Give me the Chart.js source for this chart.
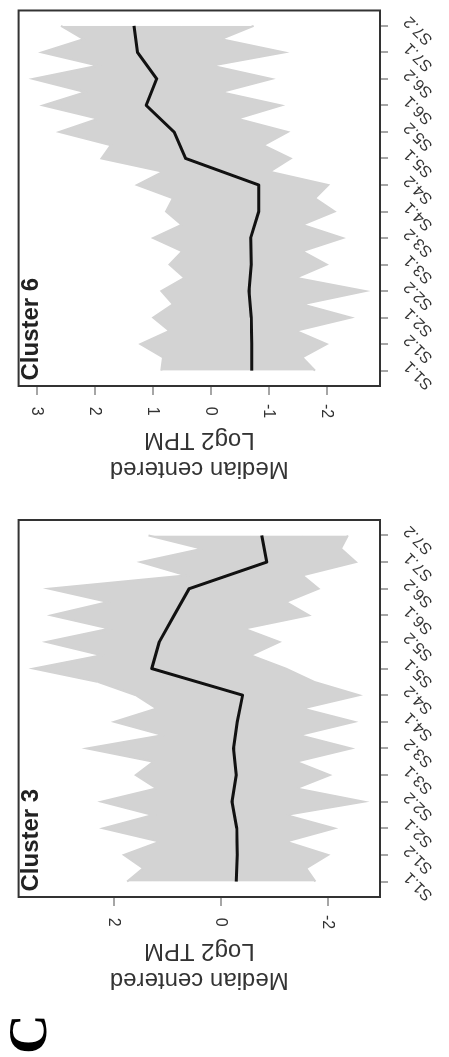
<!DOCTYPE html>
<html>
<head>
<meta charset="utf-8">
<script src="https://cdn.jsdelivr.net/npm/chart.js@4.4.1/dist/chart.umd.min.js"></script>
<style>
  html, body { margin: 0; padding: 0; background: #fff; overflow: hidden; }
  /* the figure is laid out landscape, then turned a quarter turn counter-clockwise */
  #figure { position: absolute; left: 0; top: 0; width: 1057px; height: 449px;
            transform-origin: 0 0; transform: translateY(1057px) rotate(-90deg); background: #fff; }
  #figure canvas { position: absolute; top: 0; }
  #c1 { left: 39px; }
  #c2 { left: 550px; }
  #panel { position: absolute; left: 3px; top: -4px; line-height: 1; color: #000;
           font: bold 55px 'Liberation Serif', 'Times New Roman', serif; }
</style>
</head>
<body>
<div id="figure">
  <div id="panel">C</div>
  <canvas id="c1" width="511" height="449"></canvas>
  <canvas id="c2" width="507" height="449"></canvas>
</div>
<script>
const samples = ['S1.1', 'S1.2', 'S2.1', 'S2.2', 'S3.1', 'S3.2', 'S4.1', 'S4.2',
                 'S5.1', 'S5.2', 'S6.1', 'S6.2', 'S7.1', 'S7.2'];

// Cluster 3: median profile, top / bottom edge of the grey gene band
// (value at each sample, and the dip of the edge between two samples)
const c3Median   = [-0.29, -0.31, -0.30, -0.21, -0.29, -0.24, -0.31, -0.41, 1.29, 1.15, 0.87, 0.59, -0.86, -0.77];
const c3Upper    = [1.75, 1.81, 2.20, 2.23, 1.59, 2.50, 1.99, 1.59, 3.50, 3.26, 3.17, 3.21, 1.50, 1.35];
const c3UpperGap = [1.45, 1.14, 1.27, 1.20, 1.26, 1.08, 1.20, 2.30, 2.23, 2.08, 2.11, 0.65, 0.35];
const c3Lower    = [-1.77, -2.01, -2.13, -2.68, -2.04, -2.44, -2.50, -2.59, -1.22, -1.10, -1.65, -1.83, -2.53, -2.38];
const c3LowerGap = [-1.60, -1.22, -1.22, -1.41, -1.41, -1.47, -1.53, -1.75, -0.56, -0.44, -1.22, -1.53, -2.25];
const c3Ticks    = [-2, 0, 2];

// Cluster 6
const c6Median   = [-0.71, -0.71, -0.70, -0.66, -0.70, -0.69, -0.83, -0.83, 0.43, 0.63, 1.11, 0.93, 1.26, 1.32];
const c6Upper    = [0.85, 1.21, 0.99, 0.85, 0.71, 0.99, 0.77, 1.27, 1.88, 2.61, 2.89, 3.06, 2.91, 2.58];
const c6UpperGap = [0.82, 0.71, 0.65, 0.45, 0.49, 0.50, 0.65, 0.82, 1.72, 1.94, 2.16, 1.94, 2.19];
const c6Lower    = [-1.80, -2.00, -2.42, -2.67, -2.00, -2.28, -2.14, -2.03, -1.38, -1.33, -1.22, -1.05, -1.27, -0.74];
const c6LowerGap = [-1.58, -1.47, -1.58, -1.47, -1.58, -1.58, -1.80, -1.02, -0.91, -0.46, -0.18, -0.02, -0.18];
const c6Ticks    = [-2, -1, 0, 1, 2, 3];

const yTitle = ['Median centered', 'Log2 TPM'];
const grey = '#d3d3d3';
const family = "'Liberation Sans', Arial, sans-serif";

function envelope(peaks, gaps) {
    const pts = [];
    peaks.forEach(function(v, i) {
        pts.push({ x: i, y: v });
        if (i < gaps.length) pts.push({ x: i + 0.5, y: gaps[i] });
    });
    return pts;
}

// box round the plot area + cluster name in its top left corner
const frame = {
    id: 'frame',
    afterDraw(chart, args, opts) {
        const { ctx, chartArea: a } = chart;
        ctx.save();
        ctx.strokeStyle = '#333';
        ctx.lineWidth = 2;
        ctx.strokeRect(a.left, a.top, a.right - a.left, a.bottom - a.top);
        ctx.font = 'bold 24px ' + family;
        ctx.fillStyle = '#222';
        ctx.textBaseline = 'top';
        ctx.fillText(opts.label, a.left + 5.5, a.top + 1);
        ctx.restore();
    }
};

function makeChart(id, label, median, upper, upperGap, lower, lowerGap, yMin, yMax, yTicks, padRight) {
    return new Chart(document.getElementById(id), {
        type: 'line',
        data: {
            datasets: [
                {
                    data: samples.map(function(s, i) { return { x: i, y: median[i] }; }),
                    borderColor: '#111', borderWidth: 3, pointRadius: 0,
                    borderJoinStyle: 'round', order: 0
                },
                {
                    data: envelope(upper, upperGap),
                    borderColor: grey, backgroundColor: grey, borderWidth: 2,
                    pointRadius: 0, fill: '+1', order: 1
                },
                {
                    data: envelope(lower, lowerGap),
                    borderColor: grey, borderWidth: 2, pointRadius: 0, fill: false, order: 2
                }
            ]
        },
        options: {
            responsive: false,
            animation: false,
            events: [],
            layout: { padding: { left: 0, top: 8, right: padRight, bottom: 0 }, autoPadding: false },
            plugins: {
                legend: { display: false },
                tooltip: { enabled: false },
                frame: { label: label }
            },
            scales: {
                x: {
                    type: 'linear',
                    min: -0.58,
                    max: 13.58,
                    afterBuildTicks: function(s) { s.ticks = samples.map(function(_, i) { return { value: i }; }); },
                    afterFit: function(s) { s.height = 69; },
                    border: { display: false },
                    grid: { drawOnChartArea: false, tickLength: 8, color: '#a6a6a6', lineWidth: 2 },
                    ticks: {
                        autoSkip: false, minRotation: 45, maxRotation: 45, padding: 12, labelOffset: 7,
                        color: '#333', font: { family: family, size: 16 },
                        callback: function(v) { return samples[v]; }
                    }
                },
                y: {
                    min: yMin,
                    max: yMax,
                    afterBuildTicks: function(s) { s.ticks = yTicks.map(function(v) { return { value: v }; }); },
                    afterFit: function(s) { s.width = 121; },
                    border: { display: false },
                    grid: { drawOnChartArea: false, tickLength: 9, color: '#a6a6a6', lineWidth: 2 },
                    ticks: {
                        minRotation: 180, maxRotation: 180, crossAlign: 'center', padding: 9,
                        color: '#333', font: { family: family, size: 16 }
                    },
                    title: {
                        display: true, text: yTitle, color: '#333', padding: { top: 24 },
                        font: { family: family, size: 24 }
                    }
                }
            }
        },
        plugins: [frame]
    });
}

makeChart('c1', 'Cluster 3', c3Median, c3Upper, c3UpperGap, c3Lower, c3LowerGap, -2.98, 3.78, c3Ticks, 13);
makeChart('c2', 'Cluster 6', c6Median, c6Upper, c6UpperGap, c6Lower, c6LowerGap, -2.92, 3.31, c6Ticks, 7);
</script>
</body>
</html>
